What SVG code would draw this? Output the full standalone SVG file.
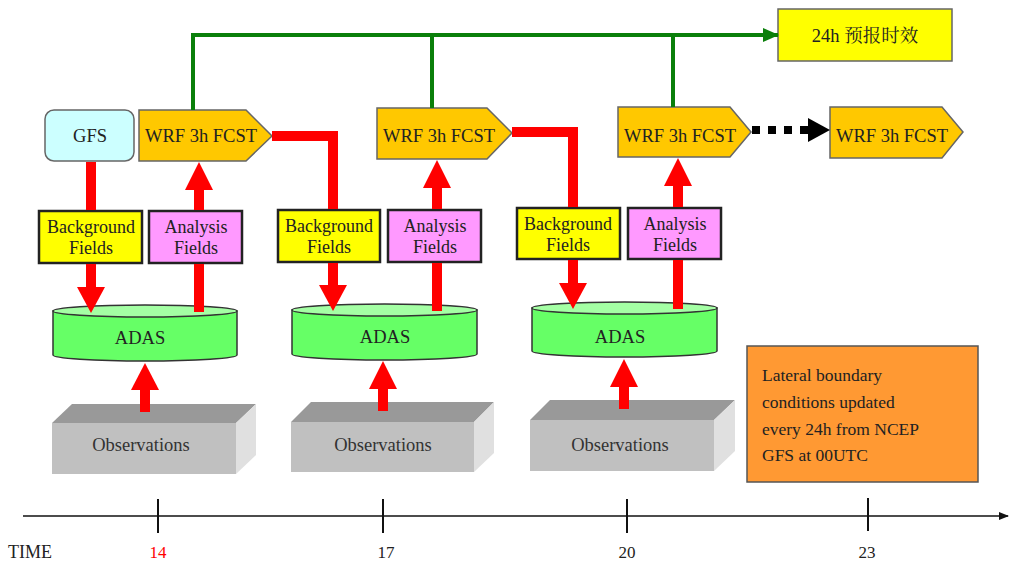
<svg xmlns="http://www.w3.org/2000/svg" width="1009" height="562" viewBox="0 0 1009 562" font-family="Liberation Serif, Times New Roman, serif">
<style>
text{fill:#222;}
.lbl{font-size:18.5px;text-anchor:middle;}
.fld{font-size:18px;text-anchor:middle;}
.num{font-size:17px;text-anchor:middle;}
.wrf{fill:#ffc800;stroke:#666;stroke-width:1.5;}
.bg{fill:#ffff00;stroke:#222;stroke-width:2.5;}
.af{fill:#ff99ff;stroke:#222;stroke-width:2.5;}
.cylb{fill:#66ff66;stroke:#333;stroke-width:1.5;}
.cylt{fill:#a4ffa4;stroke:#333;stroke-width:1.5;}
.red{stroke:#ff0000;stroke-width:10;fill:none;}
.redh{fill:#ff0000;}
.grn{stroke:#0a7f0a;stroke-width:4;fill:none;}
.of{fill:#c0c0c0;}
.ot{fill:#999999;}
.or{fill:#e0e0e0;}
.tick{stroke:#111;stroke-width:2;}
</style>
<defs>
<marker id="ga" markerWidth="16" markerHeight="14" refX="15" refY="7" orient="auto" markerUnits="userSpaceOnUse"><path d="M0,0 L16,7 L0,14 z" fill="#0a7f0a"/></marker>
<marker id="ta" markerWidth="10" markerHeight="8" refX="9" refY="4" orient="auto" markerUnits="userSpaceOnUse"><path d="M0,0 L10,4 L0,8 z" fill="#111"/></marker>
</defs>

<g id="gfs">
<rect x="45" y="110" width="89" height="51" rx="9" fill="#ccffff" stroke="#666" stroke-width="1.5"/>
<text class="lbl" x="90" y="142">GFS</text>
</g>
<g id="wrf1">
<polygon class="wrf" points="139,110 246,110 272,136 246,161 139,161"/>
<text class="lbl" x="201" y="142">WRF 3h FCST</text>
</g>
<g id="wrf2">
<polygon class="wrf" points="377,108 487,108 512,133 487,159 377,159"/>
<text class="lbl" x="439" y="142">WRF 3h FCST</text>
</g>
<g id="wrf3">
<polygon class="wrf" points="618,107 730,107 751,132 730,157 618,157"/>
<text class="lbl" x="680" y="142">WRF 3h FCST</text>
</g>
<g id="wrf4">
<polygon class="wrf" points="830,107 942,107 963,132 942,158 830,158"/>
<text class="lbl" x="892" y="142">WRF 3h FCST</text>
</g>
<g id="forecast24">
<rect x="778" y="9" width="174" height="52" fill="#ffff00" stroke="#666" stroke-width="1.5"/>
<text class="lbl" x="865" y="42" font-family="Liberation Serif, Noto Serif CJK SC, Noto Sans CJK SC, serif">24h 预报时效</text>
</g>

<g id="bg1"><rect class="bg" x="39" y="211" width="103" height="52"/><text class="fld" x="91" y="233">Background</text><text class="fld" x="91" y="254">Fields</text></g>
<g id="af1"><rect class="af" x="149" y="211" width="93" height="52"/><text class="fld" x="196" y="233">Analysis</text><text class="fld" x="196" y="254">Fields</text></g>
<g id="bg2"><rect class="bg" x="278" y="210" width="102" height="52"/><text class="fld" x="329" y="232">Background</text><text class="fld" x="329" y="253">Fields</text></g>
<g id="af2"><rect class="af" x="388" y="210" width="93" height="52"/><text class="fld" x="435" y="232">Analysis</text><text class="fld" x="435" y="253">Fields</text></g>
<g id="bg3"><rect class="bg" x="517" y="208" width="103" height="51"/><text class="fld" x="568" y="230">Background</text><text class="fld" x="568" y="251">Fields</text></g>
<g id="af3"><rect class="af" x="628" y="208" width="93" height="51"/><text class="fld" x="675" y="230">Analysis</text><text class="fld" x="675" y="251">Fields</text></g>

<g id="adas1">
<path class="cylb" d="M53,311 L53,355 A92,6 0 0 0 237,355 L237,311 Z"/>
<ellipse class="cylt" cx="145" cy="311" rx="92" ry="6"/>
<text class="lbl" x="140" y="344">ADAS</text>
</g>
<g id="adas2">
<path class="cylb" d="M292,310 L292,354 A92.5,6 0 0 0 477,354 L477,310 Z"/>
<ellipse class="cylt" cx="384.5" cy="310" rx="92.5" ry="6"/>
<text class="lbl" x="385" y="343">ADAS</text>
</g>
<g id="adas3">
<path class="cylb" d="M532,308 L532,351 A92.5,6 0 0 0 717,351 L717,308 Z"/>
<ellipse class="cylt" cx="624.5" cy="308" rx="92.5" ry="6"/>
<text class="lbl" x="620" y="343">ADAS</text>
</g>

<g id="obs1">
<polygon class="ot" points="52,423 72,404 256,404 236,423"/>
<polygon class="or" points="236,423 256,404 256,455 236,474"/>
<rect class="of" x="52" y="423" width="184" height="51"/>
<text class="lbl" x="141" y="451" style="fill:#333">Observations</text>
</g>
<g id="obs2">
<polygon class="ot" points="291,422 311,402 494,402 474,422"/>
<polygon class="or" points="474,422 494,402 494,453 474,472"/>
<rect class="of" x="291" y="422" width="183" height="50"/>
<text class="lbl" x="383" y="451" style="fill:#333">Observations</text>
</g>
<g id="obs3">
<polygon class="ot" points="530,420 550,400 735,400 714,420"/>
<polygon class="or" points="714,420 735,400 735,451 714,471"/>
<rect class="of" x="530" y="420" width="184" height="51"/>
<text class="lbl" x="620" y="451" style="fill:#333">Observations</text>
</g>

<g id="lbc">
<rect x="747" y="346" width="231" height="136" fill="#ff9933" stroke="#555" stroke-width="1.5"/>
<text x="762" y="381" font-size="17.5">Lateral boundary</text>
<text x="762" y="408" font-size="17.5">conditions updated</text>
<text x="762" y="435" font-size="17.5">every 24h from NCEP</text>
<text x="762" y="461" font-size="17.5">GFS at 00UTC</text>
</g>

<g id="connectors">
<polyline class="grn" points="193,110 193,35 778,35" marker-end="url(#ga)"/>
<line class="grn" x1="432" y1="35" x2="432" y2="108"/>
<line class="grn" x1="673" y1="35" x2="673" y2="107"/>
<line class="red" x1="91" y1="162" x2="91" y2="210"/>
<line class="red" x1="91" y1="264" x2="91" y2="288"/>
<polygon class="redh" points="77,287 105,287 91,313"/>
<line class="red" x1="199" y1="312" x2="199" y2="264"/>
<line class="red" x1="199" y1="210" x2="199" y2="189"/>
<polygon class="redh" points="185,190 213,190 199,162"/>
<polyline class="red" points="272,136 333,136 333,209"/>
<line class="red" x1="333" y1="263" x2="333" y2="286"/>
<polygon class="redh" points="319,285 347,285 333,311"/>
<line class="red" x1="437" y1="311" x2="437" y2="263"/>
<line class="red" x1="437" y1="209" x2="437" y2="187"/>
<polygon class="redh" points="423,188 451,188 437,160"/>
<polyline class="red" points="512,132 573,132 573,207"/>
<line class="red" x1="573" y1="260" x2="573" y2="284"/>
<polygon class="redh" points="559,283 587,283 573,309"/>
<line class="red" x1="678" y1="309" x2="678" y2="260"/>
<line class="red" x1="678" y1="207" x2="678" y2="185"/>
<polygon class="redh" points="664,186 692,186 678,158"/>
<line class="red" x1="145" y1="412" x2="145" y2="389"/>
<polygon class="redh" points="131,390 159,390 145,363"/>
<line class="red" x1="383" y1="411" x2="383" y2="388"/>
<polygon class="redh" points="369,389 397,389 383,361"/>
<line class="red" x1="624" y1="409" x2="624" y2="386"/>
<polygon class="redh" points="610,387 638,387 624,359"/>
<line x1="752" y1="130" x2="808" y2="130" stroke="#000" stroke-width="8" stroke-dasharray="8,8"/>
<polygon points="808,118 830,130 808,142" fill="#000"/>
<line x1="23" y1="516" x2="1008" y2="516" stroke="#111" stroke-width="1.5" marker-end="url(#ta)"/>
<line class="tick" x1="158" y1="499" x2="158" y2="533"/>
<line class="tick" x1="383" y1="499" x2="383" y2="533"/>
<line class="tick" x1="627" y1="499" x2="627" y2="533"/>
<line class="tick" x1="868" y1="498" x2="868" y2="531"/>
</g>

<g id="timelabels">
<text x="8" y="558" font-size="18">TIME</text>
<text class="num" x="158" y="558" style="fill:#ff0000">14</text>
<text class="num" x="386" y="558">17</text>
<text class="num" x="627" y="558">20</text>
<text class="num" x="867" y="558">23</text>
</g>
</svg>
